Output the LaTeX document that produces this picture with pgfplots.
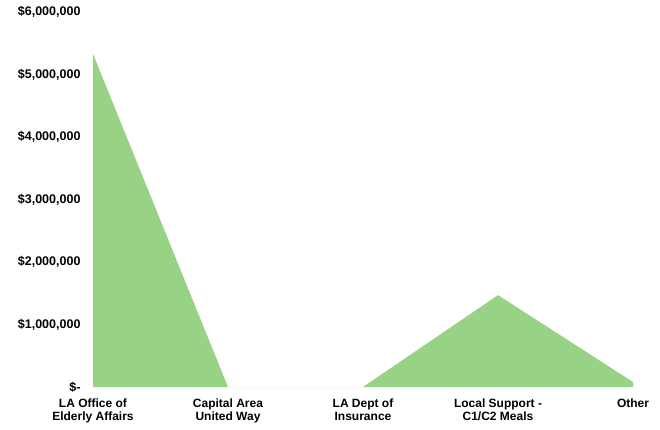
\documentclass[border=0pt]{standalone}
\usepackage{pgfplots}
\pgfplotsset{compat=1.18}
\usepackage{fontspec}
\setmainfont{Liberation Sans}
\definecolor{areagreen}{RGB}{152,210,132}
\begin{document}
\begin{tikzpicture}
\path[use as bounding box] (-93pt,-42pt) rectangle (567pt,387pt);
\begin{axis}[
  scale only axis,
  width=540pt, height=375pt,
  xmin=0, xmax=4, ymin=0, ymax=6000000,
  axis line style={draw=none},
  tick style={draw=none},
  xtick={0,1,2,3,4},
  xticklabels={{LA Office of\\Elderly Affairs},{Capital Area\\United Way},{LA Dept of\\Insurance},{Local Support -\\C1/C2 Meals},{Other}},
  xticklabel style={align=center, font=\bfseries\fontsize{12}{13.5}\selectfont, anchor=north, yshift=-8pt},
  ytick={0,1000000,2000000,3000000,4000000,5000000,6000000},
  yticklabels={{\$-},{\$1,000,000},{\$2,000,000},{\$3,000,000},{\$4,000,000},{\$5,000,000},{\$6,000,000}},
  yticklabel style={font=\bfseries\fontsize{12.5}{15}\selectfont, anchor=east, xshift=-9pt},
  scaled y ticks=false,
]
\addplot[fill=areagreen, draw=none] coordinates {(0,5330000) (1,0) (2,0) (3,1470000) (4,80000)} \closedcycle;
\end{axis}
\end{tikzpicture}
\end{document}
